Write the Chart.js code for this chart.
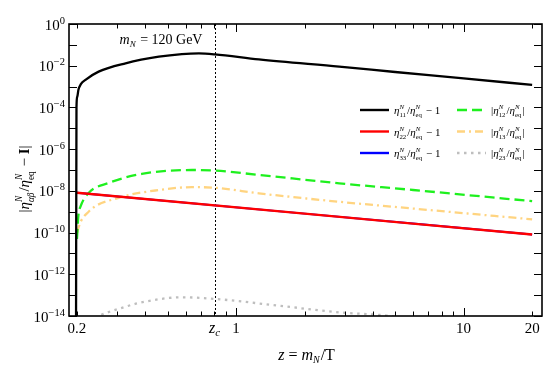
<!DOCTYPE html>
<html>
<head>
<meta charset="utf-8">
<script src="https://cdn.jsdelivr.net/npm/chart.js@4/dist/chart.umd.min.js"></script>
<style>
  html, body { margin: 0; padding: 0; background: #fff; }
  #wrap { width: 545px; height: 366px; }
</style>
</head>
<body>
<div id="wrap"><canvas id="chart" width="545" height="366"></canvas></div>
<script>
// z = m_N / T at the critical point
const zc = 0.808;

// eta_11 / eta_eq - 1
const zBlack = [0.198, 0.199, 0.2005, 0.203, 0.208, 0.218, 0.249, 0.327, 0.458, 0.578, 0.687, 0.808, 1.26, 2.84, 5, 10, 20];
const black  = [1e-16, 1e-4, 3.2e-4, 7e-4, 1.3e-3, 2.1e-3, 5.2e-3, 0.013, 0.027, 0.036, 0.039, 0.035, 0.020, 0.009, 0.0050, 0.00247, 0.0012];

// eta_22 / eta_eq - 1  (eta_33 lies underneath it)
const zRed = [0.2, 2, 20];
const red  = [8.1e-9, 8.1e-10, 8.1e-11];
const blue = [8.1e-9, 8.1e-10, 8.1e-11];

// |eta_12 / eta_eq|
const zGreen = [0.2, 0.203, 0.207, 0.225, 0.276, 0.385, 0.64, 0.816, 1.26, 2.84, 6, 20];
const green  = [5e-11, 7e-10, 1.7e-9, 7.9e-9, 2.4e-8, 6.5e-8, 1.0e-7, 9.3e-8, 5.8e-8, 2.3e-8, 1.1e-8, 3.2e-9];

// |eta_13 / eta_eq|
const zOrange = [0.201, 0.203, 0.225, 0.305, 0.458, 0.64, 0.816, 1.26, 2.84, 6, 20];
const orange  = [1e-10, 1.7e-10, 1e-9, 4.6e-9, 1.1e-8, 1.5e-8, 1.4e-8, 7.6e-9, 3.0e-9, 1.42e-9, 4.3e-10];

// |eta_23 / eta_eq|
const zGray = [0.24, 0.249, 0.327, 0.374, 0.578, 0.808, 1.44, 2.84, 4.58, 6];
const gray  = [8e-15, 1e-14, 2.8e-14, 4.2e-14, 7.9e-14, 6.6e-14, 3.4e-14, 1.5e-14, 1.05e-14, 7e-15];

// axis ticks
const xMajor = [1, 10];
const xMinor = [0.2, 0.3, 0.4, 0.5, 0.6, 0.7, 0.8, 0.9, 2, 3, 4, 5, 6, 7, 8, 9, 20];
const xLabelVals = [0.2, zc, 1, 10, 20];
const xLabelText = ['0.2', 'zc', '1', '10', '20'];
const yTickExps  = [0, -1, -2, -3, -4, -5, -6, -7, -8, -9, -10, -11, -12, -13, -14];
const yLabelExps = [0, -2, -4, -6, -8, -10, -12, -14];

const SERIF = '"Liberation Serif", "DejaVu Serif", serif';
const F = (sz, it, bold) => (it ? 'italic ' : '') + (bold ? 'bold ' : '') + sz + 'px ' + SERIF;

function pts(xs, ys) { return xs.map((x, i) => ({ x: x, y: ys[i] })); }

// ---- rich text (sub/superscripts) ----
function segWidth(ctx, s) {
  if (s.t !== undefined) { ctx.font = s.f; return ctx.measureText(s.t).width; }
  ctx.font = s.supF; const a = s.sup ? ctx.measureText(s.sup).width : 0;
  ctx.font = s.subF; const b = s.sub ? ctx.measureText(s.sub).width : 0;
  return Math.max(a, b) + 1;
}
function drawRich(ctx, segs, x, y, align) {
  const total = segs.reduce((w, s) => w + segWidth(ctx, s), 0);
  let cx = align === 'center' ? x - total / 2 : align === 'right' ? x - total : x;
  ctx.textAlign = 'left';
  ctx.textBaseline = 'alphabetic';
  for (const s of segs) {
    const w = segWidth(ctx, s);
    if (s.t !== undefined) {
      ctx.font = s.f; ctx.fillText(s.t, cx, y + (s.dy || 0));
    } else {
      if (s.sup) { ctx.font = s.supF; ctx.fillText(s.sup, cx, y + s.supDy); }
      if (s.sub) { ctx.font = s.subF; ctx.fillText(s.sub, cx, y + s.subDy); }
    }
    cx += w;
  }
  return total;
}
function eta(sz, sub) {
  return [
    { t: 'η', f: F(sz, true) },
    { sup: 'N', sub: sub, supF: F(sz * 0.62, true), subF: F(sz * 0.62, sub === 'αβ'), supDy: -sz * 0.45, subDy: sz * 0.3 }
  ];
}
function ratioLabel(sz, idx, abs) {
  const segs = [...eta(sz, idx), { t: '/', f: F(sz) }, ...eta(sz, 'eq')];
  if (abs) return [{ t: '|', f: F(sz) }, ...segs, { t: '|', f: F(sz) }];
  return [...segs, { t: ' − 1', f: F(sz) }];
}

const legendItems = [
  { ds: 0, col: 0, row: 0, text: ratioLabel(11, '11', false) },
  { ds: 1, col: 0, row: 1, text: ratioLabel(11, '22', false) },
  { ds: 2, col: 0, row: 2, text: ratioLabel(11, '33', false) },
  { ds: 3, col: 1, row: 0, text: ratioLabel(11, '12', true) },
  { ds: 4, col: 1, row: 1, text: ratioLabel(11, '13', true) },
  { ds: 5, col: 1, row: 2, text: ratioLabel(11, '23', true) },
];

const framePlugin = {
  id: 'framePlugin',
  beforeDatasetsDraw(chart) {
    const { ctx, chartArea: a, scales: { x } } = chart;
    // dotted line at z_c
    ctx.save();
    ctx.strokeStyle = '#000';
    ctx.lineWidth = 1;
    ctx.setLineDash([2, 2]);
    const px = Math.round(x.getPixelForValue(zc)) + 0.5;
    ctx.beginPath(); ctx.moveTo(px, a.top); ctx.lineTo(px, a.bottom); ctx.stroke();
    ctx.restore();
  },
  afterDraw(chart) {
    const { ctx, chartArea: a, scales: { x, y } } = chart;
    ctx.save();
    ctx.strokeStyle = '#000';
    ctx.fillStyle = '#000';
    ctx.lineWidth = 1;

    // ticks, pointing inwards on all four sides
    ctx.beginPath();
    const xt = (v, len) => {
      const px = Math.round(x.getPixelForValue(v)) + 0.5;
      ctx.moveTo(px, a.bottom); ctx.lineTo(px, a.bottom - len);
      ctx.moveTo(px, a.top); ctx.lineTo(px, a.top + len);
    };
    xMajor.forEach(v => xt(v, 8));
    xMinor.forEach(v => xt(v, 4.5));
    yTickExps.forEach(e => {
      const py = Math.round(y.getPixelForValue(Math.pow(10, e))) + 0.5;
      ctx.moveTo(a.left, py); ctx.lineTo(a.left + 8, py);
      ctx.moveTo(a.right, py); ctx.lineTo(a.right - 8, py);
    });
    ctx.stroke();

    // frame
    ctx.lineWidth = 1.6;
    ctx.strokeRect(a.left, a.top, a.right - a.left, a.bottom - a.top);

    // x tick labels
    xLabelVals.forEach((v, i) => {
      const px = x.getPixelForValue(v);
      const txt = xLabelText[i];
      if (txt === 'zc') {
        drawRich(ctx, [{ t: 'z', f: F(16, true) }, { sub: 'c', subF: F(11, true), subDy: 3 }], px, a.bottom + 17, 'center');
      } else {
        drawRich(ctx, [{ t: txt, f: F(15) }], px, a.bottom + 17, 'center');
      }
    });

    // y tick labels
    yLabelExps.forEach(e => {
      const py = y.getPixelForValue(Math.pow(10, e));
      const sup = e === 0 ? '0' : '−' + (-e);
      drawRich(ctx, [{ t: '10', f: F(15) }, { sup: sup, supF: F(10.5), supDy: -6 }], a.left - 3, py + 5.5, 'right');
    });

    // axis titles
    drawRich(ctx, [
      { t: 'z', f: F(16, true) }, { t: ' = ', f: F(16) },
      { t: 'm', f: F(16, true) }, { sub: 'N', subF: F(10, true), subDy: 3 },
      { t: '/T', f: F(16) }
    ], (a.left + a.right) / 2 + 1, 360, 'center');

    ctx.save();
    ctx.translate(24, 179);
    ctx.rotate(-Math.PI / 2);
    drawRich(ctx, [
      { t: '|', f: F(15) }, ...eta(15, 'αβ'), { t: '/', f: F(15) }, ...eta(15, 'eq'),
      { t: ' − ', f: F(15) }, { t: 'I', f: F(15, false, true) }, { t: '|', f: F(15) }
    ], 0, 5, 'center');
    ctx.restore();

    // mass annotation
    drawRich(ctx, [
      { t: 'm', f: F(14, true) }, { sub: 'N', subF: F(9, true), subDy: 3 },
      { t: ' = 120 GeV', f: F(14) }
    ], 161, 44, 'center');

    // legend
    const colX = [360, 457];
    const rowY = [110, 131.5, 153];
    legendItems.forEach(it => {
      const ds = chart.data.datasets[it.ds];
      const lx = colX[it.col], ly = rowY[it.row];
      ctx.save();
      ctx.strokeStyle = ds.borderColor;
      ctx.lineWidth = 2.4;
      ctx.setLineDash(ds.borderDash || []);
      ctx.beginPath(); ctx.moveTo(lx, ly); ctx.lineTo(lx + 29, ly); ctx.stroke();
      ctx.restore();
      drawRich(ctx, it.text, lx + 34, ly + 4, 'left');
    });

    ctx.restore();
  }
};

const lineBase = { fill: false, pointRadius: 0, cubicInterpolationMode: 'monotone' };

new Chart(document.getElementById('chart').getContext('2d'), {
  type: 'line',
  data: {
    datasets: [
      { ...lineBase, label: 'eta11', data: pts(zBlack, black), borderColor: '#000000', borderWidth: 2.3 },
      { ...lineBase, label: 'eta22', data: pts(zRed, red), borderColor: '#ff0000', borderWidth: 2.3 },
      { ...lineBase, label: 'eta33', data: pts(zRed, blue), borderColor: '#0000ff', borderWidth: 2 },
      { ...lineBase, label: 'eta12', data: pts(zGreen, green), borderColor: 'rgb(30,240,30)', borderWidth: 2.3, borderDash: [10, 5] },
      { ...lineBase, label: 'eta13', data: pts(zOrange, orange), borderColor: 'rgb(255,212,128)', borderWidth: 2.3, borderDash: [8, 4, 2, 4] },
      { ...lineBase, label: 'eta23', data: pts(zGray, gray), borderColor: 'rgb(190,190,190)', borderWidth: 2.3, borderDash: [2.5, 4.5] },
    ]
  },
  options: {
    responsive: false,
    animation: false,
    layout: { padding: { left: 69, right: 3, top: 24, bottom: 50 } },
    plugins: { legend: { display: false }, tooltip: { enabled: false } },
    scales: {
      x: { type: 'logarithmic', min: 0.1845, max: 22.1, display: false },
      y: { type: 'logarithmic', min: 1e-14, max: 1, display: false }
    }
  },
  plugins: [framePlugin]
});
</script>
</body>
</html>
